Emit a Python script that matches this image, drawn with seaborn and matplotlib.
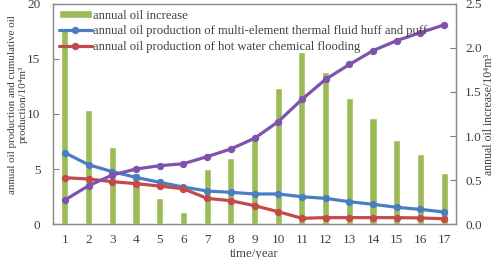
import numpy as np
import pandas as pd
import matplotlib
matplotlib.use("Agg")
import matplotlib.pyplot as plt
import seaborn as sns

years = [str(i) for i in range(1, 18)]
annual_increase = [2.225, 1.30, 0.88, 0.575, 0.30, 0.14, 0.63, 0.75, 0.955, 1.55,
                   1.96, 1.73, 1.435, 1.20, 0.955, 0.80, 0.575]
multi_element = [6.48, 5.39, 4.76, 4.24, 3.79, 3.36, 3.00, 2.88, 2.73, 2.73,
                 2.48, 2.33, 2.03, 1.79, 1.52, 1.33, 1.09]
hot_water = [4.21, 4.09, 3.85, 3.67, 3.45, 3.20, 2.33, 2.12, 1.67, 1.12,
             0.52, 0.58, 0.58, 0.58, 0.58, 0.55, 0.48]
cumulative = [2.18, 3.48, 4.45, 5.00, 5.30, 5.48, 6.12, 6.82, 7.79, 9.30,
              11.33, 13.15, 14.50, 15.76, 16.67, 17.40, 18.10]

sns.set_theme(style="white")
plt.rcParams['font.family'] = ['Liberation Serif', 'DejaVu Serif']
txt = '#404040'

df = pd.DataFrame({'year': years, 'inc': annual_increase, 'multi': multi_element,
                   'hot': hot_water, 'cum': cumulative, 'pos': np.arange(17)})

fig = plt.figure(figsize=(4.98, 2.59), dpi=100)
ax = fig.add_axes([0.1064, 0.1351, 0.8093, 0.8495])
ax2 = ax.twinx()

# bars on ax (right scale), lines on ax2 (left scale) drawn on top
sns.barplot(data=df, x='year', y='inc', ax=ax, color='#9BBB59', width=0.3,
            saturation=1, label='annual oil increase')
ax.set_ylim(0, 2.5)
ax.set_xlim(-0.5, 16.5)

lw = 2.3
ms = 5.3
sns.lineplot(data=df, x='pos', y='multi', ax=ax2, color='#4A7EC4', lw=lw, marker='o',
             markersize=ms, markeredgewidth=0,
             label='annual oil production of multi-element thermal fluid huff and puff')
sns.lineplot(data=df, x='pos', y='hot', ax=ax2, color='#C4494A', lw=lw, marker='o',
             markersize=ms, markeredgewidth=0,
             label='annual oil production of hot water chemical flooding')
sns.lineplot(data=df, x='pos', y='cum', ax=ax2, color='#7F52AE', lw=lw, marker='o',
             markersize=ms, markeredgewidth=0, legend=False)
ax2.set_ylim(0, 20)
ax2.set_xlim(-0.5, 16.5)

# swap sides
ax.yaxis.tick_right()
ax.yaxis.set_label_position('right')
ax2.yaxis.tick_left()
ax2.yaxis.set_label_position('left')

ax.set_yticks([0, 0.5, 1.0, 1.5, 2.0, 2.5])
ax.set_yticklabels(['0.0', '0.5', '1.0', '1.5', '2.0', '2.5'])
ax2.set_yticks([0, 5, 10, 15, 20])
ax.set_xticks(range(17))
ax.set_xticklabels(years)

fs = 9.5
ax.tick_params(axis='y', direction='in', length=4, width=0.8, colors='#808080',
               labelcolor=txt, labelsize=fs, pad=6.5)
ax2.tick_params(axis='y', direction='in', length=4, width=0.8, colors='#808080',
                labelcolor=txt, labelsize=fs, pad=9)
for a in (ax, ax2):
    for s in a.spines.values():
        s.set_color('#8c8c8c')
        s.set_linewidth(0.9)
ax.tick_params(axis='x', length=0, labelsize=fs, labelcolor=txt, pad=7.5)
ax2.tick_params(axis='x', length=0)

ax.set_xlabel('time/year', fontsize=9.3, color=txt, labelpad=1)
ax.set_ylabel('annual oil increase/10\u2074m\u00b3', fontsize=8.6, color=txt)
ax.yaxis.set_label_coords(1.066, 0.5)
ax2.set_ylabel('annual oil production and cumulative oil\nproduction/10\u2074m\u00b3',
               fontsize=7.9, color=txt, linespacing=1.25)
ax2.yaxis.set_label_coords(-0.062, 0.545)

# legend
h1, l1 = ax.get_legend_handles_labels()
h2, l2 = ax2.get_legend_handles_labels()
if ax.get_legend():
    ax.get_legend().remove()
ax2.legend(h1 + h2, l1 + l2, loc='upper left', bbox_to_anchor=(0.0, 1.0),
           frameon=False, fontsize=9.1, handlelength=2.6, handletextpad=0.15,
           handleheight=0.6, labelspacing=0.3, borderaxespad=0.05, labelcolor=txt)

fig.savefig('out.png', dpi=100)
